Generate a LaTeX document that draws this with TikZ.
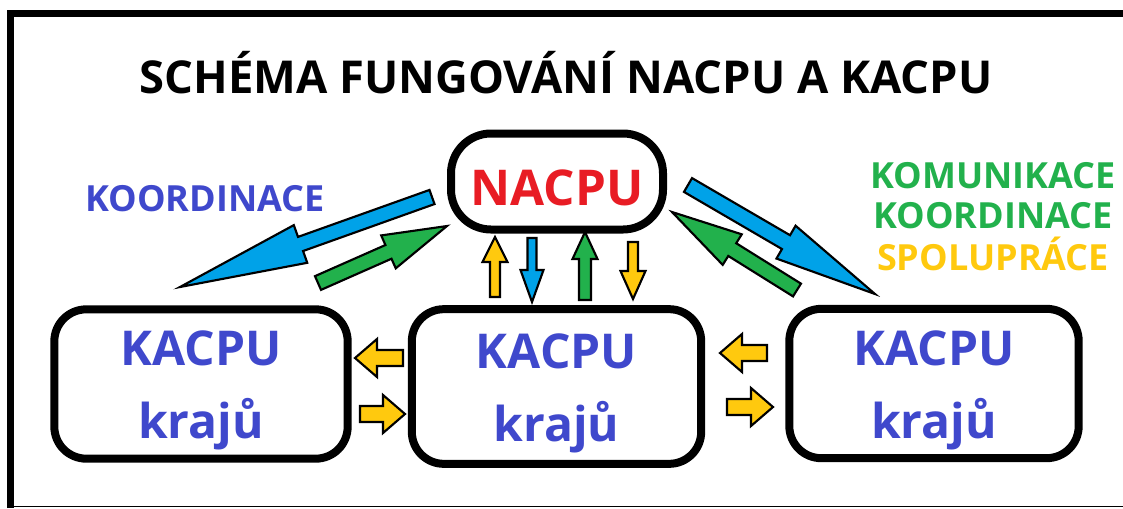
\documentclass[tikz,border=0pt]{standalone}
\usepackage{fontspec}
\setmainfont{Open Sans}
\usepackage{tikz}
\usetikzlibrary{calc}
\definecolor{kblue}{RGB}{63,72,204}
\definecolor{nred}{RGB}{232,28,36}
\definecolor{kgreen}{RGB}{34,177,76}
\definecolor{kyellow}{RGB}{255,201,14}
\definecolor{ablue}{RGB}{0,162,232}
% block arrow: colour, tail, tip, shaft, head width, head length (px)
\newcommand{\blokarrow}[6]{%
\coordinate (hb) at ($(#3)!#6*0.75pt!(#2)$);
\filldraw[fill=#1,draw=black,line width=1.6pt]
 ($(#2)!#4*0.375pt!90:(#3)$) -- ($(hb)!#4*0.375pt!90:(#3)$) -- ($(hb)!#5*0.375pt!90:(#3)$) -- (#3)
 -- ($(hb)!#5*0.375pt!-90:(#3)$) -- ($(hb)!#4*0.375pt!-90:(#3)$) -- ($(#2)!#4*0.375pt!-90:(#3)$) -- cycle;}
\newcommand{\lowr}[1]{\raisebox{-5pt}[\height][\depth]{#1}}

\begin{document}
\begin{tikzpicture}[x=0.75pt,y=-0.75pt,
  box/.style={draw,line width=6pt,rounded corners=24pt,align=center,text=kblue,font=\bfseries\fontsize{36}{55}\selectfont},
  lbl/.style={anchor=base,font=\bfseries\fontsize{27}{30}\selectfont}]
\useasboundingbox (0,0) rectangle (1123,508);
%\draw [help lines,step=50] (0,0) grid (1123,508);
\draw [line width=5.25pt] (10.5,508) -- (10.5,13.5) -- (1123,13.5); \draw [line width=1pt] (14,506.5) -- (1123,506.5);
\node [anchor=base,font=\bfseries\fontsize{34}{40}\selectfont] (title) at (566,93) {SCHÉMA FUNGOVÁNÍ NACPU A KACPU};
\node [box,text=nred,rounded corners=30pt,minimum width=159pt,minimum height=72pt,font=\bfseries\fontsize{37}{40}\selectfont] (nacpu) at (557,181.5) {\lowr{NACPU}};
\node [box,minimum width=220pt,minimum height=112pt] (kleft) at (201,384) {\lowr{KACPU}\\\lowr{krajů}};
\node [box,minimum width=217pt,minimum height=116pt] (kmid) at (556.5,386.5) {\lowr{KACPU}\\\lowr{krajů}};
\node [box,minimum width=217pt,minimum height=112pt] (kright) at (934,383.5) {\lowr{KACPU}\\\lowr{krajů}};
\node [lbl,text=kblue] (koor) at (205,211) {KOORDINACE};
\node [lbl,text=kgreen] (komu) at (993,188) {KOMUNIKACE};
\node [lbl,text=kgreen] (koor2) at (993,228) {KOORDINACE};
\node [lbl,text=kyellow] (spol) at (993,270) {SPOLUPRÁCE};
\blokarrow{ablue}{432,197}{180,287}{15}{40}{128} \blokarrow{kgreen}{318,283}{447,226}{15}{36}{64}
\blokarrow{ablue}{688,185}{875,294}{16}{38}{103} \blokarrow{kgreen}{797,290}{672,212}{15}{36}{71}
\blokarrow{kyellow}{495,297}{495,237}{10}{25}{25} \blokarrow{ablue}{532,238}{532,302}{9}{23}{32}
\blokarrow{kgreen}{585,300}{585,232}{12}{25}{27} \blokarrow{kyellow}{633,242}{633,299}{10}{25}{28}
\blokarrow{kyellow}{403,358}{355,358}{16}{38}{22} \blokarrow{kyellow}{360,414}{405,414}{16}{38}{22}
\blokarrow{kyellow}{767,353}{720,353}{16}{38}{22} \blokarrow{kyellow}{727,407}{773,407}{16}{38}{22}
\end{tikzpicture}
\end{document}
